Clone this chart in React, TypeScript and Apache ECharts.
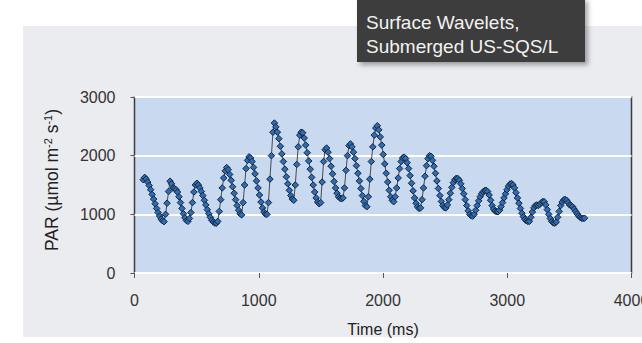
import React, { useEffect, useRef } from "react";
import * as echarts from "echarts";

// Sampling of the PAR record (ms)
const startTime = 70;
const sampleStep = 12;

// PAR values (µmol m-2 s-1)
const parValues = [
  1590, 1630, 1600, 1550, 1490, 1420, 1340, 1260, 1180, 1100, 1030, 970, 920, 890, 875,
  1000, 1190, 1390, 1565,
  1520, 1450, 1440, 1420, 1380, 1300, 1200, 1100, 1010, 940, 895, 880,
  930, 1030, 1200, 1380, 1500, 1530,
  1500, 1450, 1390, 1320, 1240, 1160, 1080, 1010, 950, 900, 870, 852, 848,
  880, 1050, 1250, 1450, 1620, 1740, 1797,
  1760, 1680, 1580, 1470, 1360, 1250, 1150, 1070, 1010, 990,
  1200, 1500, 1780, 1920, 1980,
  1960, 1900, 1800, 1690, 1570, 1450, 1330, 1210, 1110, 1040, 1005, 1000,
  1200, 1600, 2000, 2400, 2556, 2490,
  2400, 2290, 2160, 2030, 1900, 1770, 1640, 1520, 1410, 1320, 1260, 1240,
  1500, 1850, 2150, 2350, 2400, 2390,
  2300, 2180, 2050, 1910, 1770, 1630, 1500, 1380, 1280, 1210, 1180, 1200,
  1550, 1900, 2100, 2130,
  2060, 1950, 1820, 1690, 1560, 1450, 1360, 1300, 1275, 1265, 1280,
  1450, 1750, 2000, 2170, 2200,
  2150, 2060, 1950, 1830, 1700, 1570, 1440, 1320, 1220, 1150, 1130,
  1300, 1600, 1900, 2150, 2350, 2470, 2510,
  2440, 2320, 2180, 2020, 1860, 1700, 1550, 1410, 1300, 1240, 1215,
  1300, 1450, 1620, 1780, 1900, 1960, 1975, 1950,
  1880, 1780, 1660, 1530, 1400, 1280, 1190, 1130, 1100, 1110,
  1250, 1450, 1650, 1830, 1950, 2000, 1990,
  1920, 1820, 1700, 1570, 1440, 1320, 1220, 1150, 1115, 1110,
  1160, 1250, 1360, 1460, 1540, 1590, 1615, 1610,
  1580, 1520, 1440, 1350, 1250, 1150, 1060, 1000, 975, 970,
  1000, 1070, 1150, 1230, 1300, 1350, 1385, 1405, 1410, 1390,
  1330, 1240, 1150, 1090, 1055, 1045, 1043,
  1070, 1130, 1200, 1280, 1350, 1420, 1480, 1515, 1525,
  1500, 1450, 1370, 1280, 1190, 1100, 1020, 960, 915, 890, 878, 880,
  950, 1040, 1110, 1150, 1160, 1150, 1170, 1200, 1220, 1215, 1160, 1080, 1000, 930, 880, 855, 848, 870,
  950, 1050, 1150, 1210, 1245, 1255, 1240,
  1200, 1160, 1150, 1130, 1090, 1050, 1010, 975, 950, 935, 930, 935,
];

const xMin = 0;
const xMax = 4000;
const xStep = 1000;
const yMin = 0;
const yMax = 3000;
const yStep = 1000;

const titleLines = ["Surface Wavelets,", "Submerged US-SQS/L"];
const xAxisTitle = "Time (ms)";
const yAxisTitle = "PAR (µmol m{sup|-2} s{sup|-1})";

const FONT = "'Liberation Sans', Arial, Helvetica, sans-serif";
const W = 642;
const H = 343;

export default function App() {
  const ref = useRef<HTMLDivElement>(null);

  useEffect(() => {
    if (!ref.current) return;
    document.body.style.margin = "0";
    document.body.style.overflow = "hidden";
    const chart = echarts.init(ref.current, null, { renderer: "svg", width: W, height: H });
    const data = parValues.map((v, i) => [startTime + i * sampleStep, v]);
    const plain = (v: number) => String(v);

    chart.setOption({
      animation: false,
      backgroundColor: "#ffffff",
      textStyle: { fontFamily: FONT },
      grid: {
        left: 134.5,
        right: 10.5,
        top: 97,
        bottom: 70,
        containLabel: false,
        outerBoundsMode: "none",
        show: true,
        backgroundColor: "#c8d9f0",
        borderColor: "#3c3c3c",
        borderWidth: 1.5,
      },
      xAxis: {
        type: "value",
        min: xMin,
        max: xMax,
        interval: xStep,
        offset: 6,
        axisLine: { show: false },
        axisTick: { show: true, length: 5, lineStyle: { color: "#555", width: 1 } },
        axisLabel: { fontSize: 16, color: "#333", margin: 13, fontFamily: FONT, formatter: plain, hideOverlap: false },
        splitLine: { show: false },
        name: xAxisTitle,
        nameLocation: "middle",
        nameGap: 42,
        nameTextStyle: { fontSize: 16, color: "#222", fontFamily: FONT, fontWeight: "normal" },
      },
      yAxis: {
        type: "value",
        min: yMin,
        max: yMax,
        interval: yStep,
        offset: 5,
        axisLine: { show: false },
        axisTick: { show: true, length: 4, lineStyle: { color: "#555", width: 1 } },
        axisLabel: { fontSize: 16, color: "#333", margin: 14, fontFamily: FONT, formatter: plain },
        splitLine: { show: true, lineStyle: { color: "#ffffff", width: 2 } },
      },
      series: [
        {
          type: "line",
          data,
          showAllSymbol: true,
          symbol: "diamond",
          symbolSize: 6.5,
          lineStyle: { color: "#4a4a4a", width: 1 },
          itemStyle: { color: "#2d6db6", borderColor: "#18263a", borderWidth: 1 },
          z: 3,
        },
      ],
      graphic: [
        {
          type: "rect",
          z: -10,
          silent: true,
          shape: { x: 23, y: 26, width: 619, height: 311 },
          style: { fill: "#ebecf0" },
        },
        {
          type: "text",
          z: 5,
          silent: true,
          x: 52,
          y: 180,
          rotation: Math.PI / 2,
          style: {
            text: yAxisTitle,
            align: "center",
            verticalAlign: "middle",
            fontSize: 17.5,
            fontFamily: FONT,
            fill: "#222",
            rich: {
              sup: { fontSize: 11, fontFamily: FONT, fill: "#222", verticalAlign: "top", padding: [0, 0, 9, 0] },
            },
          },
        },
        {
          type: "group",
          z: 100,
          children: [
            {
              type: "rect",
              shape: { x: 357, y: -2, width: 228, height: 64 },
              style: {
                fill: "#3e3e3e",
                shadowBlur: 5,
                shadowOffsetX: 3,
                shadowOffsetY: 3,
                shadowColor: "rgba(0,0,0,0.35)",
              },
            },
            {
              type: "text",
              x: 366,
              y: 22,
              style: { text: titleLines[0], fontSize: 19, fontFamily: FONT, fill: "#f2f2f2", verticalAlign: "middle" },
            },
            {
              type: "text",
              x: 366,
              y: 46,
              style: { text: titleLines[1], fontSize: 19, fontFamily: FONT, fill: "#f2f2f2", verticalAlign: "middle" },
            },
          ],
        },
      ],
    });

    return () => chart.dispose();
  }, []);

  return (
    <div
      ref={ref}
      style={{ position: "absolute", left: 0, top: 0, width: W, height: H, overflow: "hidden" }}
    />
  );
}
